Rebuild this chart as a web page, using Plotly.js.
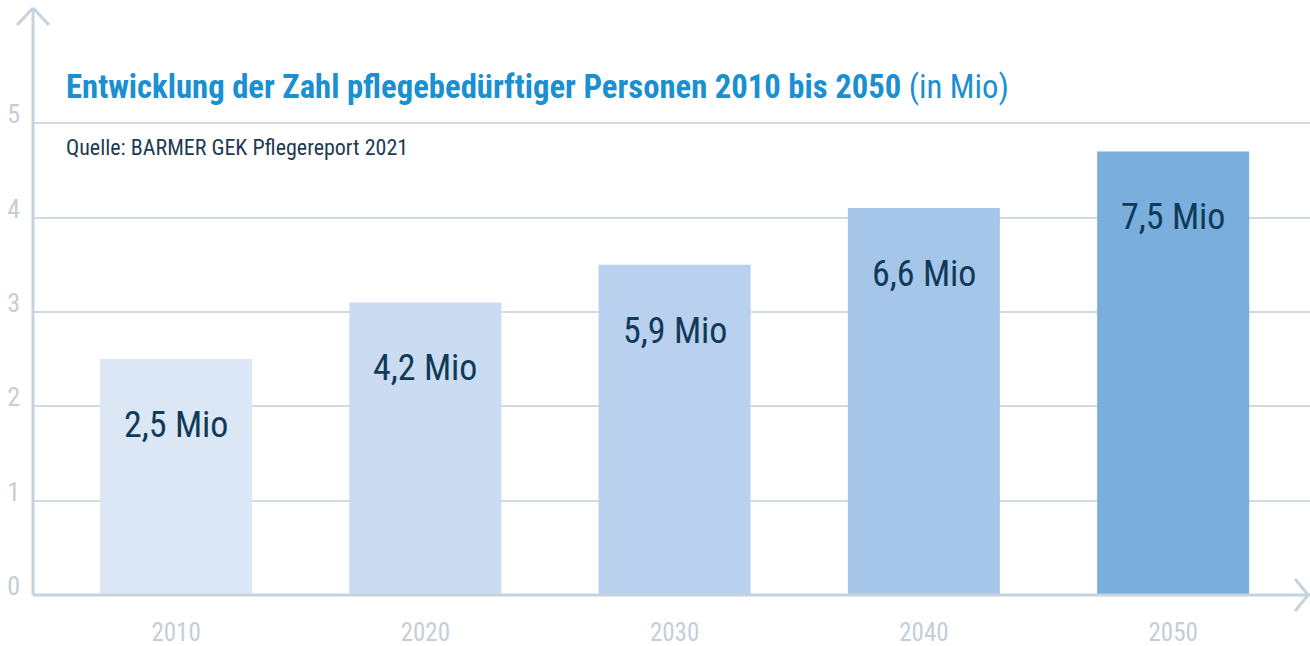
<!DOCTYPE html>
<html>
<head>
<meta charset="utf-8">
<script src="https://cdn.plot.ly/plotly-3.0.1.min.js"></script>
<style>
  html, body { margin: 0; padding: 0; background: #fff; }
  #chart { width: 1310px; height: 646px; }
</style>
</head>
<body>
<div id="chart"></div>
<script>
// Pflegebedürftige, Balkenhöhe in Achseneinheiten, Beschriftung als Text
const years = ['2010', '2020', '2030', '2040', '2050'];
const heights = [2.5, 3.1, 3.5, 4.1, 4.7];
const labels = ['2,5 Mio', '4,2 Mio', '5,9 Mio', '6,6 Mio', '7,5 Mio'];
const barColors = ['#dce7f5', '#cbdcf2', '#b9d0ee', '#a6c6e9', '#7aaedd'];

const fontFam = 'Roboto Condensed, Liberation Sans Narrow, Roboto, sans-serif';
const axisCol = '#c6d3dc';
const tickCol = '#c3ced7';
const navy = '#0f3a58';

var trace = {
    x: years,
    y: heights,
    type: 'bar',
    marker: { color: barColors, line: { width: 0 } },
    hoverinfo: 'skip'
};

// Kategorie-Achse: Index statt String
var annotations = labels.map((t, i) => ({
    x: i,
    y: heights[i],
    xref: 'x', yref: 'y',
    text: t,
    showarrow: false,
    yanchor: 'middle',
    yshift: -66,
    font: { family: fontFam, size: 36, color: navy }
}));

annotations.push({
    xref: 'paper', yref: 'paper',
    x: 0.0245, y: 0.865,
    xanchor: 'left', yanchor: 'middle',
    text: '<b>Entwicklung der Zahl pflegebedürftiger Personen 2010 bis 2050</b> (in Mio)',
    showarrow: false,
    font: { family: fontFam, size: 32.7, color: '#1a90d2' }
});
annotations.push({
    xref: 'paper', yref: 'paper',
    x: 0.0245, y: 0.763,
    xanchor: 'left', yanchor: 'middle',
    text: 'Quelle: BARMER GEK Pflegereport 2021',
    showarrow: false,
    font: { family: fontFam, size: 22, color: '#1d3b52' }
});

var shapes = [
    // y-Achse mit Pfeil
    { type: 'line', xref: 'paper', yref: 'paper', x0: 0, x1: 0, y0: 0, y1: 1,
      line: { color: axisCol, width: 3 } },
    { type: 'line', xref: 'paper', yref: 'paper', xsizemode: 'pixel', ysizemode: 'pixel',
      xanchor: 0, yanchor: 1, x0: -16, x1: 0, y0: -17, y1: 0,
      line: { color: axisCol, width: 3 } },
    { type: 'line', xref: 'paper', yref: 'paper', xsizemode: 'pixel', ysizemode: 'pixel',
      xanchor: 0, yanchor: 1, x0: 16, x1: 0, y0: -17, y1: 0,
      line: { color: axisCol, width: 3 } },
    // x-Achse mit Pfeil
    { type: 'line', xref: 'paper', yref: 'paper', x0: 0, x1: 1, y0: 0, y1: 0,
      line: { color: axisCol, width: 3 } },
    { type: 'line', xref: 'paper', yref: 'paper', xsizemode: 'pixel', ysizemode: 'pixel',
      xanchor: 0.9985, yanchor: 0, x0: -13, x1: 0, y0: 16, y1: 0,
      line: { color: axisCol, width: 3 } },
    { type: 'line', xref: 'paper', yref: 'paper', xsizemode: 'pixel', ysizemode: 'pixel',
      xanchor: 0.9985, yanchor: 0, x0: -13, x1: 0, y0: -16, y1: 0,
      line: { color: axisCol, width: 3 } }
];

var layout = {
    width: 1310,
    height: 646,
    margin: { l: 33, r: 0, t: 8, b: 51 },
    paper_bgcolor: '#ffffff',
    plot_bgcolor: '#ffffff',
    showlegend: false,
    bargap: 0.39,
    font: { family: fontFam },
    xaxis: {
        type: 'category',
        range: [-0.574, 4.549],
        showgrid: false,
        zeroline: false,
        showline: false,
        ticks: '',
        ticklabelstandoff: 20,
        tickfont: { family: fontFam, size: 25, color: tickCol }
    },
    yaxis: {
        range: [0, 6.22],
        tickvals: [0, 1, 2, 3, 4, 5],
        showgrid: true,
        gridcolor: '#cfdae2',
        gridwidth: 2,
        zeroline: false,
        showline: false,
        ticks: '',
        ticklabelstandoff: 12,
        ticklabelshift: -9,
        tickfont: { family: fontFam, size: 26, color: tickCol }
    },
    annotations: annotations,
    shapes: shapes
};

Plotly.newPlot('chart', [trace], layout, { displayModeBar: false, staticPlot: true });
</script>
</body>
</html>
